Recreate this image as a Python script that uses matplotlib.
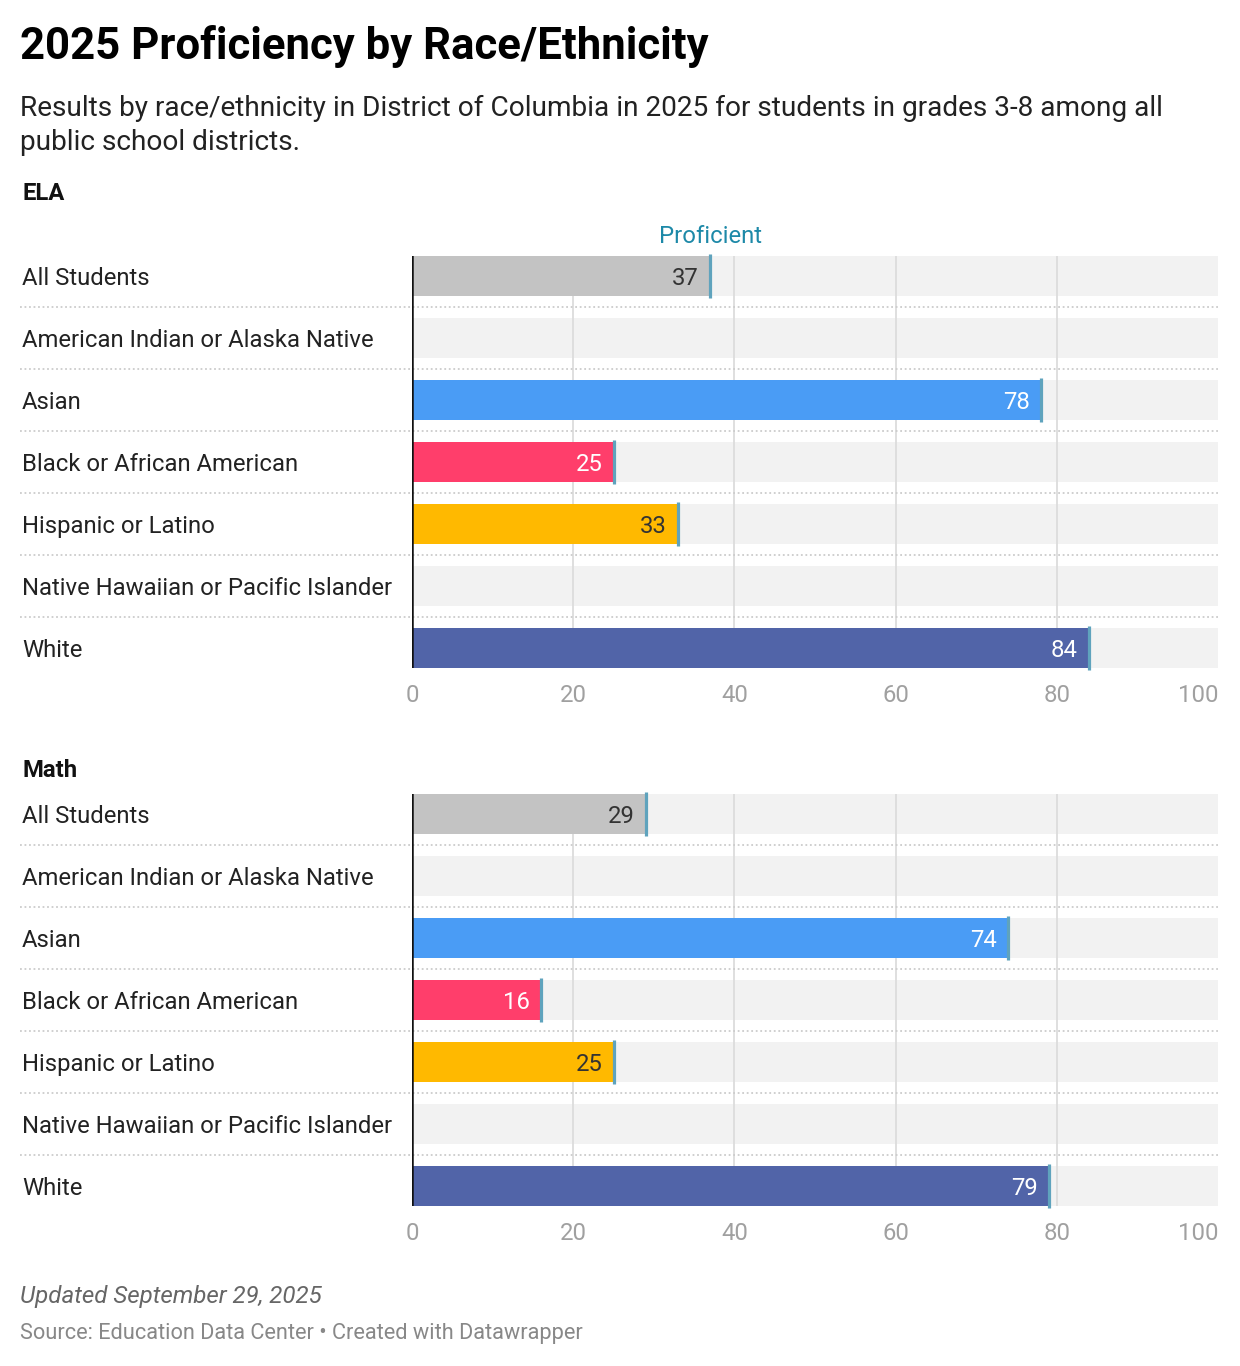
import numpy as np
import matplotlib.pyplot as plt
from matplotlib.transforms import blended_transform_factory

plt.rcParams['font.family'] = ['Roboto', 'DejaVu Sans']

groups = ['All Students', 'American Indian or Alaska Native', 'Asian',
          'Black or African American', 'Hispanic or Latino',
          'Native Hawaiian or Pacific Islander', 'White']
ela = [37, np.nan, 78, 25, 33, np.nan, 84]
math = [29, np.nan, 74, 16, 25, np.nan, 79]
bar_colors = ['#c3c3c3', '#c3c3c3', '#4a9cf5', '#ff3e6b', '#ffb900', '#c3c3c3', '#5164a8']
label_colors = ['#333333', '#333333', 'white', 'white', '#333333', '#333333', 'white']
ticks = [0, 20, 40, 60, 80, 100]

W, H = 1240, 1366
fig = plt.figure(figsize=(W / 100, H / 100), dpi=100)
fig.patch.set_facecolor('white')

def px(x, y):
    return x / W, 1 - y / H

fs = 17.2

fig.text(*px(20, 47), '2025 Proficiency by Race/Ethnicity', fontsize=31.5, fontweight='bold',
         va='center', ha='left', color='black')
fig.text(*px(20, 108), 'Results by race/ethnicity in District of Columbia in 2025 for students in grades 3-8 among all',
         fontsize=20.2, va='center', ha='left', color='#222222')
fig.text(*px(20, 142), 'public school districts.', fontsize=20.2, va='center', ha='left', color='#222222')

half = 20 / 62


def panel(top, title, vals, show_key):
    x0, x1 = 412, 1218
    h = 6 * 62 + 40
    ax = fig.add_axes([x0 / W, 1 - (top + h) / H, (x1 - x0) / W, h / H])
    ax.set_xlim(0, 100)
    ax.set_ylim(6 + half, -half)
    y = np.arange(len(groups))
    # background bands
    ax.barh(y, [100] * len(groups), height=2 * half, color='#f2f2f2', zorder=0)
    for t in ticks[1:-1]:
        ax.axvline(t, color='#dcdcdc', lw=1.3, zorder=1)
    vv = np.nan_to_num(np.array(vals, dtype=float))
    ax.barh(y, vv, height=2 * half, color=bar_colors, zorder=2)
    for i, v in enumerate(vals):
        if np.isnan(v):
            continue
        ax.plot([v, v], [i - 0.355, i + 0.355], color='#5fa3bd', lw=2.3,
                solid_capstyle='butt', zorder=4, clip_on=False)
        ax.annotate(f'{v:g}', (v, i), xytext=(-8, 0), textcoords='offset points',
                    ha='right', va='center_baseline', fontsize=fs, color=label_colors[i], zorder=5)
    ax.axvline(0, color='#111111', lw=1.8, zorder=5)
    # separators and labels
    tr = blended_transform_factory(fig.transFigure, ax.transData)
    for i in range(len(groups) - 1):
        ax.plot([20 / W, 1218 / W], [i + 0.5, i + 0.5], transform=tr, color='#cccccc',
                lw=1.3, ls=(0, (1, 1.5)), clip_on=False, zorder=3)
    for i, g in enumerate(groups):
        ax.text(22 / W, i, g, transform=tr, ha='left', va='center_baseline', fontsize=fs, color='#222222')
    ax.set_xticks(ticks)
    ax.set_xticklabels([str(t) for t in ticks], fontsize=fs, color='#a0a0a0')
    ax.get_xticklabels()[-1].set_horizontalalignment('right')
    ax.tick_params(axis='x', length=0, pad=11.5)
    ax.set_yticks([])
    for s in ax.spines.values():
        s.set_visible(False)
    fig.text(*px(22, top - 62 if show_key else top - 24), title, fontsize=fs,
             fontweight='bold', va='center', ha='left', color='#111111')
    if show_key:
        ax.annotate('Proficient', (vals[0], -half), xytext=(0, 6), textcoords='offset points',
                    ha='center', va='bottom', fontsize=fs, color='#1d89a8')
    return ax


panel(256, 'ELA', ela, True)
panel(794, 'Math', math, False)

fig.text(*px(20, 1296), 'Updated September 29, 2025', fontsize=17.4, style='italic',
         va='center', ha='left', color='#666666')
fig.text(*px(20, 1333), 'Source: Education Data Center \u2022 Created with Datawrapper', fontsize=15.7,
         va='center', ha='left', color='#888888')

fig.savefig('out.png', dpi=100, facecolor='white')
